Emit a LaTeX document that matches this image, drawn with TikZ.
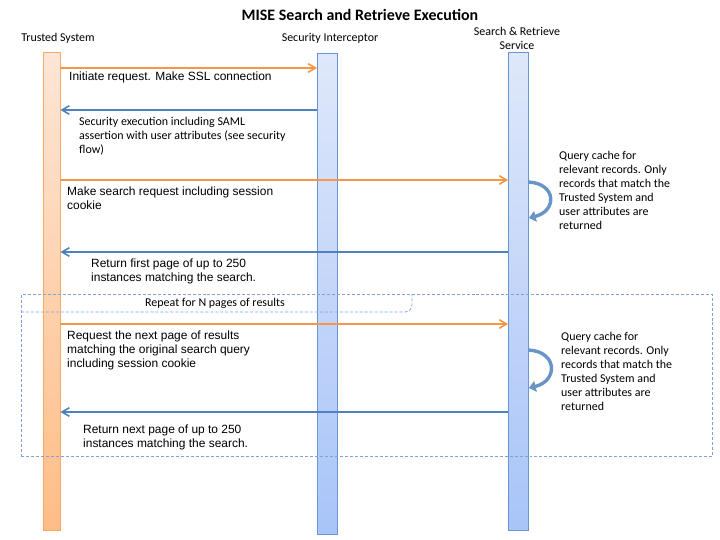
\documentclass[tikz,border=0pt]{standalone}
\usepackage{fontspec}
\setmainfont{Carlito}
\newfontfamily\arialfont{Liberation Sans}
\usepackage{tikz}
\usepackage{xcolor}
\usetikzlibrary{arrows.meta,positioning,calc}
\definecolor{reqline}{HTML}{F79646}
\definecolor{respline}{HTML}{4F81BD}
\definecolor{tstop}{HTML}{FDE6D6}
\definecolor{tsbot}{HTML}{FFBD86}
\definecolor{tsedge}{HTML}{F9A862}
\definecolor{svtop}{HTML}{DFE8FA}
\definecolor{svbot}{HTML}{A8C4F8}
\definecolor{svedge}{HTML}{6B94D4}
\definecolor{framec}{HTML}{7FA1D6}
\tikzset{
  lifets/.style={draw=tsedge, top color=tstop, bottom color=tsbot, line width=0.8pt,
                 minimum width=17bp, inner sep=0pt, anchor=north},
  lifesv/.style={draw=svedge, top color=svtop, bottom color=svbot, line width=0.8pt,
                 minimum width=20bp, inner sep=0pt, anchor=north},
  actor/.style={font=\fontsize{12}{14}\selectfont, align=center, inner sep=0pt},
  reqarrow/.style={-{Straight Barb[length=2.6mm,width=3mm]}, line width=1.6pt, draw=reqline},
  resparrow/.style={-{Straight Barb[length=2.6mm,width=3mm]}, line width=1.6pt, draw=respline},
  msg/.style={font=\arialfont\fontsize{12}{14}\selectfont, anchor=north west,
              inner sep=0pt, align=left},
  note/.style={font=\fontsize{12}{14}\selectfont, anchor=north west,
               inner sep=0pt, align=left},
  selfarrow/.style={-{Triangle[length=2.4mm,width=3.8mm]}, line width=3.4pt, draw=respline!85},
  loopframe/.style={draw=framec, dash pattern=on 3pt off 2pt, line width=0.8pt}
}
\begin{document}
\begin{tikzpicture}[x=1bp,y=-1bp]
  \useasboundingbox (0,0) rectangle (720,540);
  \node[font=\bfseries\fontsize{16}{18}\selectfont] (title) at (360,15)
    {MISE Search and Retrieve Execution};

  % lifelines
  \node[lifets,minimum height=478bp] (ts) at (51.5,52) {};
  \node[lifesv,minimum height=481bp] (si) at (327.5,53) {};
  \node[lifesv,minimum height=478bp] (ss) at (518.5,52) {};
  \node[actor] (tsname) at (58,38) {Trusted System};
  \node[actor] (siname) at (330,38) {Security Interceptor};
  \node[actor] (ssname) at (517,38) {Search \& Retrieve\\Service};

  % first page
  \draw[reqarrow] (ts.east |- 0,68) -- (si.west |- 0,68);
  \node[msg] (m1) at (69,72) {Initiate request. Make SSL connection};
  \draw[resparrow] (si.west |- 0,110) -- (ts.east |- 0,110);
  \node[note] (m2) at (79,117) {Security execution including SAML\\assertion with user attributes (see security\\flow)};
  \draw[reqarrow] (ts.east |- 0,180) -- (ss.west |- 0,180);
  \node[msg] (m3) at (67,187) {Make search request including session\\cookie};
  \draw[selfarrow] (ss.east |- 0,182) .. controls +(28,2) and +(28,-7) .. (ss.east |- 0,218);
  \node[note] (q1) at (559,151) {Query cache for\\relevant records. Only\\records that match the\\Trusted System and\\user attributes are\\returned};
  \draw[resparrow] (ss.west |- 0,252) -- (ts.east |- 0,252);
  \node[msg] (m4) at (91,259) {Return first page of up to 250\\instances matching the search.};

  % repeated pages
  \node[loopframe,minimum width=691bp,minimum height=162bp,anchor=north west,inner sep=0pt]
    (loop) at (21,294) {};
  \draw[loopframe,rounded corners=7bp] (loop.north west |- 0,312) -- (412,312) -- (412,294);
  \node[font=\fontsize{12}{14}\selectfont] (looplabel) at (215,303) {Repeat for N pages of results};
  \draw[reqarrow] (ts.east |- 0,324) -- (ss.west |- 0,324);
  \node[msg] (m5) at (67,331) {Request the next page of results\\matching the original search query\\including session cookie};
  \draw[selfarrow] (ss.east |- 0,350) .. controls +(29,2) and +(29,-7) .. (ss.east |- 0,388);
  \node[note] (q2) at (561,332) {Query cache for\\relevant records. Only\\records that match the\\Trusted System and\\user attributes are\\returned};
  \draw[resparrow] (ss.west |- 0,412) -- (ts.east |- 0,412);
  \node[msg] (m6) at (83,425) {Return next page of up to 250\\instances matching the search.};
\end{tikzpicture}
\end{document}
